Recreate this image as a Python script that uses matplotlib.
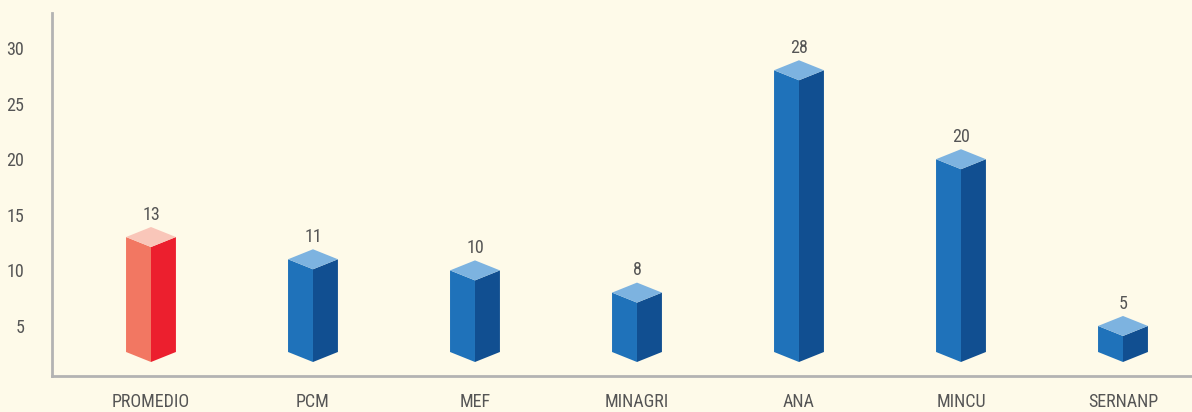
import matplotlib
matplotlib.use("Agg")
import matplotlib.pyplot as plt
from matplotlib.patches import Polygon
from matplotlib import font_manager

categories = ["PROMEDIO", "PCM", "MEF", "MINAGRI", "ANA", "MINCU", "SERNANP"]
values = [13, 11, 10, 8, 28, 20, 5]
highlight = ["PROMEDIO"]
yticks = [5, 10, 15, 20, 25, 30]

names = {f.name for f in font_manager.fontManager.ttflist}
fam = [n for n in ["Roboto Condensed", "Open Sans Condensed", "Liberation Sans Narrow", "Lato"] if n in names] + ["DejaVu Sans"]
fam = fam[:1] + ["DejaVu Sans"]

BG = "#FEFAE9"
GRAY_TXT = "#555555"
SPINE = "#B3B3B3"
BLUE = ("#1F72BA", "#114F91", "#7DB3E0")
RED = ("#F27762", "#EC1F2E", "#F9C6B9")

fig = plt.figure(figsize=(11.92, 4.12), dpi=100, facecolor=BG)
ax = fig.add_axes([52 / 1192, 1 - 376 / 412, 1 - 52 / 1192, (376 - 13) / 412])
ax.set_facecolor(BG)

ymin, ymax = 0.5, 33.15
ax.set_xlim(-0.611, 6.426)
ax.set_ylim(ymin, ymax)

w = 0.154      # half width of bar (data units)
d = 0.9        # vertical offset of the isometric edge
base = 2.66    # bottom of bars

FS = 13
for i, (cat, v) in enumerate(zip(categories, values)):
    left_c, right_c, top_c = RED if cat in highlight else BLUE
    left = Polygon([(i - w, base), (i - w, v), (i, v - d), (i, base - d)],
                   closed=True, facecolor=left_c, edgecolor="none")
    right = Polygon([(i, base - d), (i, v - d), (i + w, v), (i + w, base)],
                    closed=True, facecolor=right_c, edgecolor="none")
    top = Polygon([(i - w, v), (i, v + d), (i + w, v), (i, v - d)],
                  closed=True, facecolor=top_c, edgecolor="none")
    for p in (left, right, top):
        ax.add_patch(p)
    ax.text(i, v + d + 0.3, str(v), ha="center", va="bottom",
            fontsize=FS, color=GRAY_TXT, family=fam)

ax.set_xticks(range(len(categories)))
ax.set_xticklabels(categories, family=fam, fontsize=FS, color=GRAY_TXT)
ax.set_yticks(yticks)
ax.set_yticklabels([str(t) for t in yticks], family=fam, fontsize=FS, color=GRAY_TXT)
ax.tick_params(axis="both", length=0)
ax.tick_params(axis="y", pad=20)
ax.tick_params(axis="x", pad=12)

for s in ("top", "right"):
    ax.spines[s].set_visible(False)
for s in ("left", "bottom"):
    ax.spines[s].set_color(SPINE)
    ax.spines[s].set_linewidth(2)

fig.savefig("out.png", dpi=100, facecolor=BG)
